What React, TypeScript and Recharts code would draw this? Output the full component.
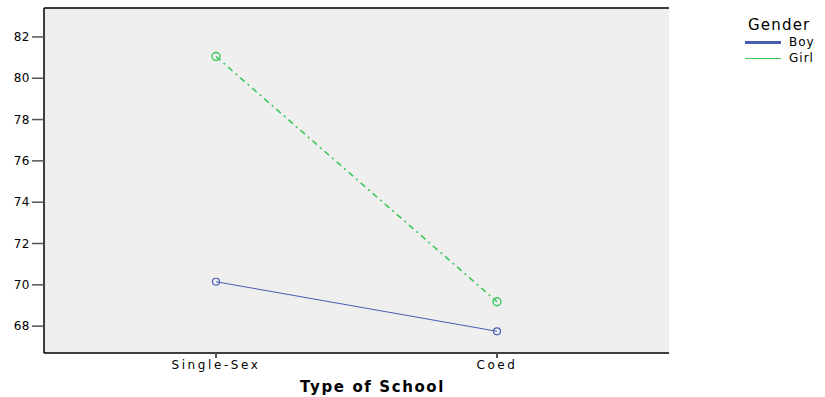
import React from 'react';
import { LineChart, Line, XAxis, YAxis, CartesianGrid, Legend } from 'recharts';

const categories = ['Single-Sex', 'Coed'];
const boyValues = [70.15, 67.75];
const girlValues = [81.05, 69.18];
const yTicks = [68, 70, 72, 74, 76, 78, 80, 82];

const data = categories.map((c, i) => ({ cat: c, Boy: boyValues[i], Girl: girlValues[i] }));

const FONT = '"DejaVu Sans", sans-serif';

const LegendContent = () => (
  <div style={{ fontFamily: FONT, color: '#000' }}>
    <div style={{ fontSize: 15, letterSpacing: 1.2, marginLeft: 3, lineHeight: '17px' }}>Gender</div>
    <div style={{ display: 'flex', alignItems: 'center', height: 16 }}>
      <div style={{ width: 36, height: 3, background: '#4a5cb4' }} />
      <span style={{ fontSize: 12, marginLeft: 8, letterSpacing: 1 }}>Boy</span>
    </div>
    <div style={{ display: 'flex', alignItems: 'center', height: 16 }}>
      <div style={{ width: 36, height: 1, background: '#3cc85a' }} />
      <span style={{ fontSize: 12, marginLeft: 8, letterSpacing: 1 }}>Girl</span>
    </div>
  </div>
);

export default function App() {
  return (
    <div style={{ position: 'absolute', left: 0, top: 0 }}>
      <LineChart width={825} height={397} data={data} margin={{ top: 7, right: 76, bottom: 0, left: 0 }}>
        <CartesianGrid horizontal={false} vertical={false} fill="#efefef" />
        <XAxis
          dataKey="cat"
          xAxisId="b"
          padding={{ left: 172, right: 172 }}
          height={44}
          axisLine={{ stroke: '#000', strokeWidth: 1.5 }}
          tickLine={{ stroke: '#555', strokeWidth: 2 }}
          tickSize={5}
          tick={{ fill: '#000', fontSize: 12, fontFamily: FONT, letterSpacing: 2.6 }}
          label={{ value: 'Type of School', position: 'insideBottom', offset: 5, fill: '#000', fontSize: 15, fontWeight: 'bold', fontFamily: FONT, letterSpacing: 1.6, dx: 16 }}
        />
        <XAxis dataKey="cat" xAxisId="t" orientation="top" height={1} tick={false} tickLine={false} axisLine={{ stroke: '#000', strokeWidth: 1.5 }} />
        <YAxis
          yAxisId="l"
          type="number"
          domain={[66.7, 83.4]}
          ticks={yTicks}
          width={44}
          axisLine={{ stroke: '#000', strokeWidth: 1.5 }}
          tickLine={{ stroke: '#555', strokeWidth: 1.5 }}
          tickSize={12}
          tickMargin={2}
          tick={{ fill: '#000', fontSize: 12, fontFamily: FONT, letterSpacing: 0.5 }}
        />
        <YAxis yAxisId="r" orientation="right" type="number" domain={[66.7, 83.4]} width={0} tick={false} tickLine={false} axisLine={{ stroke: '#000', strokeWidth: 1 }} />
        <Legend
          verticalAlign="top"
          align="right"
          layout="vertical"
          content={<LegendContent />}
          wrapperStyle={{ position: 'absolute', left: 745, top: 17, width: 80 }}
        />
        <Line
          xAxisId="b"
          yAxisId="l"
          dataKey="Boy"
          stroke="#4a5cb4"
          strokeWidth={1}
          dot={{ r: 3.5, fill: 'none', stroke: '#4a5cb4', strokeWidth: 1.2 }}
          isAnimationActive={false}
        />
        <Line
          xAxisId="b"
          yAxisId="l"
          dataKey="Girl"
          stroke="#3cc85a"
          strokeWidth={1.6}
          strokeDasharray="6 4 2 4"
          dot={{ r: 4, fill: 'none', stroke: '#3cc85a', strokeWidth: 1.4, strokeDasharray: '' }}
          isAnimationActive={false}
        />
      </LineChart>
    </div>
  );
}
